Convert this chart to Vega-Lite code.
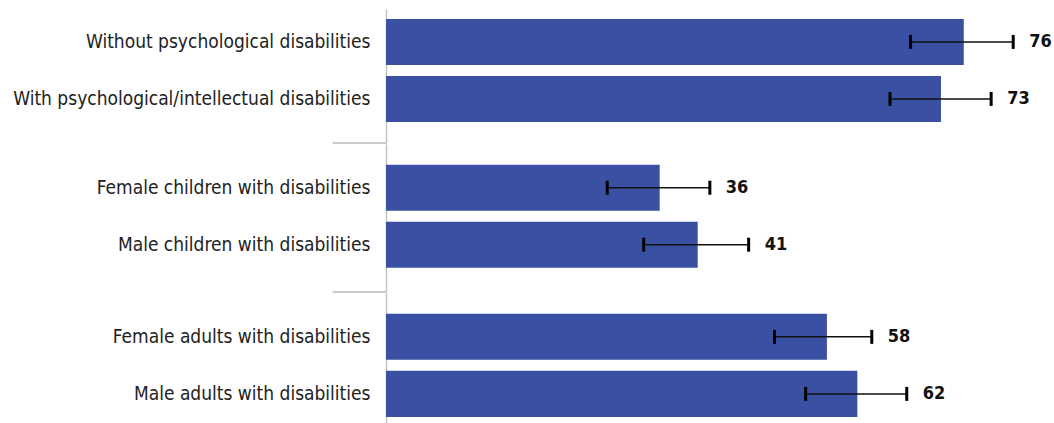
{
  "$schema": "https://vega.github.io/schema/vega-lite/v6.json",
  "padding": {"top": 9, "left": 12, "right": 0, "bottom": 0},
  "background": "white",
  "data": {"values": [
    {"group": "A", "label": "Without psychological disabilities", "value": 76, "lo": 69.0, "hi": 82.5},
    {"group": "A", "label": "With psychological/intellectual disabilities", "value": 73, "lo": 66.3, "hi": 79.6},
    {"group": "B", "label": "Female children with disabilities", "value": 36, "lo": 29.1, "hi": 42.6},
    {"group": "B", "label": "Male children with disabilities", "value": 41, "lo": 33.9, "hi": 47.7},
    {"group": "C", "label": "Female adults with disabilities", "value": 58, "lo": 51.1, "hi": 63.9},
    {"group": "C", "label": "Male adults with disabilities", "value": 62, "lo": 55.2, "hi": 68.5}
  ]},
  "spacing": 0,
  "config": {
    "view": {"stroke": null},
    "tick": {"opacity": 1},
    "axisY": {"domainColor": "#c4c4c4", "domainWidth": 1.5, "ticks": false, "labelFontSize": 19, "labelFont": "DejaVu Sans Condensed, sans-serif", "labelColor": "#222222", "labelPadding": 16, "title": null, "labelLimit": 500}
  },
  "vconcat": [
    {
      "height": 134, "width": 669,
      "transform": [{"filter": "datum.group == 'A'"}],
      "layer": [
        {
          "encoding": {
            "y": {"field": "label", "type": "nominal", "sort": null, "scale": {"paddingInner": 0.193, "paddingOuter": 0.272, "align": 0.32, "round": false}, "axis": {"title": null}}
          },
          "layer": [
            {"mark": {"type": "bar", "color": "#3A51A3"}, "encoding": {"x": {"field": "value", "type": "quantitative", "scale": {"domain": [0, 88], "nice": false}, "axis": null}}},
            {"mark": {"type": "rule", "color": "#111111", "strokeWidth": 1.5}, "encoding": {"x": {"field": "lo", "type": "quantitative"}, "x2": {"field": "hi"}}},
            {"mark": {"type": "tick", "color": "#000000", "size": 14, "thickness": 3, "opacity": 1}, "encoding": {"x": {"field": "lo", "type": "quantitative"}}},
            {"mark": {"type": "tick", "color": "#000000", "size": 14, "thickness": 3, "opacity": 1}, "encoding": {"x": {"field": "hi", "type": "quantitative"}}},
            {"mark": {"type": "text", "align": "left", "baseline": "middle", "dx": 16, "fontSize": 18, "fontWeight": "bold", "font": "DejaVu Sans Condensed, sans-serif", "color": "#111111"}, "encoding": {"x": {"field": "hi", "type": "quantitative"}, "text": {"field": "value", "type": "quantitative"}}}
          ]
        },
        {
          "data": {"values": [{}]},
          "mark": {"type": "rule", "color": "#b8b8b8", "strokeWidth": 1.5},
          "encoding": {"x": {"datum": -7, "type": "quantitative"}, "x2": {"datum": 0}, "y": {"datum": 0, "type": "quantitative", "scale": {"domain": [0, 1]}, "axis": null}}
        }
      ],
      "resolve": {"scale": {"y": "independent"}}
    },
    {
      "height": 148, "width": 669,
      "transform": [{"filter": "datum.group == 'B'"}],
      "layer": [
        {
          "encoding": {
            "y": {"field": "label", "type": "nominal", "sort": null, "scale": {"paddingInner": 0.193, "paddingOuter": 0.395, "align": 0.46, "round": false}, "axis": {"title": null}}
          },
          "layer": [
            {"mark": {"type": "bar", "color": "#3A51A3"}, "encoding": {"x": {"field": "value", "type": "quantitative", "scale": {"domain": [0, 88], "nice": false}, "axis": null}}},
            {"mark": {"type": "rule", "color": "#111111", "strokeWidth": 1.5}, "encoding": {"x": {"field": "lo", "type": "quantitative"}, "x2": {"field": "hi"}}},
            {"mark": {"type": "tick", "color": "#000000", "size": 14, "thickness": 3, "opacity": 1}, "encoding": {"x": {"field": "lo", "type": "quantitative"}}},
            {"mark": {"type": "tick", "color": "#000000", "size": 14, "thickness": 3, "opacity": 1}, "encoding": {"x": {"field": "hi", "type": "quantitative"}}},
            {"mark": {"type": "text", "align": "left", "baseline": "middle", "dx": 16, "fontSize": 18, "fontWeight": "bold", "font": "DejaVu Sans Condensed, sans-serif", "color": "#111111"}, "encoding": {"x": {"field": "hi", "type": "quantitative"}, "text": {"field": "value", "type": "quantitative"}}}
          ]
        },
        {
          "data": {"values": [{}]},
          "mark": {"type": "rule", "color": "#b8b8b8", "strokeWidth": 1.5},
          "encoding": {"x": {"datum": -7, "type": "quantitative"}, "x2": {"datum": 0}, "y": {"datum": 0, "type": "quantitative", "scale": {"domain": [0, 1]}, "axis": null}}
        }
      ],
      "resolve": {"scale": {"y": "independent"}}
    },
    {
      "height": 132, "width": 669,
      "transform": [{"filter": "datum.group == 'C'"}],
      "encoding": {
        "y": {"field": "label", "type": "nominal", "sort": null, "scale": {"paddingInner": 0.193, "paddingOuter": 0.254, "align": 0.72, "round": false}, "axis": {"title": null}}
      },
      "layer": [
        {"mark": {"type": "bar", "color": "#3A51A3"}, "encoding": {"x": {"field": "value", "type": "quantitative", "scale": {"domain": [0, 88], "nice": false}, "axis": null}}},
        {"mark": {"type": "rule", "color": "#111111", "strokeWidth": 1.5}, "encoding": {"x": {"field": "lo", "type": "quantitative"}, "x2": {"field": "hi"}}},
        {"mark": {"type": "tick", "color": "#000000", "size": 14, "thickness": 3, "opacity": 1}, "encoding": {"x": {"field": "lo", "type": "quantitative"}}},
        {"mark": {"type": "tick", "color": "#000000", "size": 14, "thickness": 3, "opacity": 1}, "encoding": {"x": {"field": "hi", "type": "quantitative"}}},
        {"mark": {"type": "text", "align": "left", "baseline": "middle", "dx": 16, "fontSize": 18, "fontWeight": "bold", "font": "DejaVu Sans Condensed, sans-serif", "color": "#111111"}, "encoding": {"x": {"field": "hi", "type": "quantitative"}, "text": {"field": "value", "type": "quantitative"}}}
      ]
    }
  ]
}
